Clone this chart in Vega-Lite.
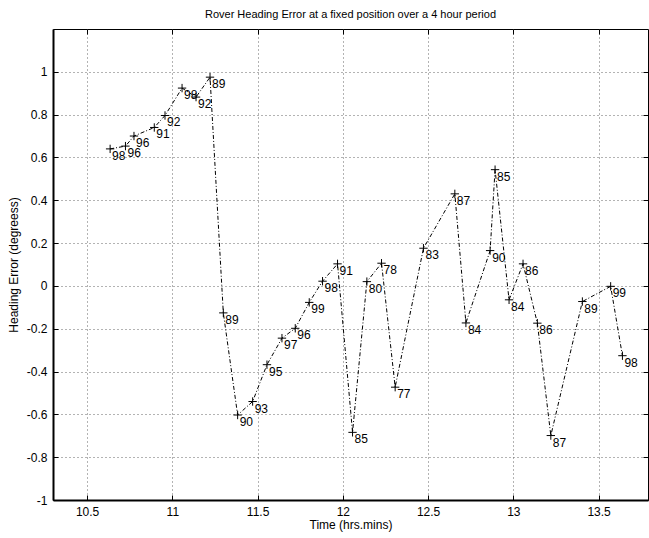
{
  "$schema": "https://vega.github.io/schema/vega-lite/v6.json",
  "width": 595,
  "height": 471,
  "autosize": {"type": "none"},
  "padding": {"left": 53, "top": 29, "right": 1, "bottom": 38},
  "background": "white",
  "title": {
    "text": "Rover Heading Error at a fixed position over a 4 hour period",
    "font": "Liberation Sans",
    "fontSize": 11,
    "fontWeight": "normal",
    "color": "#000",
    "offset": 9,
    "anchor": "middle"
  },
  "config": {
    "view": {"stroke": "#000", "strokeWidth": 1},
    "axis": {
      "labelFont": "Liberation Sans",
      "labelFontSize": 12,
      "labelColor": "#000",
      "titleFont": "Liberation Sans",
      "titleFontSize": 12,
      "titleFontWeight": "normal",
      "titleColor": "#000",
      "domainColor": "#000",
      "tickColor": "#000",
      "gridColor": "#666",
      "gridDash": [1, 3],
      "gridWidth": 1
    }
  },
  "data": {
    "values": [
      {"time": 10.635, "err": 0.640, "q": 98},
      {"time": 10.725, "err": 0.653, "q": 96},
      {"time": 10.775, "err": 0.700, "q": 96},
      {"time": 10.894, "err": 0.740, "q": 91},
      {"time": 10.957, "err": 0.796, "q": 92},
      {"time": 11.057, "err": 0.924, "q": 98},
      {"time": 11.139, "err": 0.882, "q": 92},
      {"time": 11.221, "err": 0.975, "q": 89},
      {"time": 11.299, "err": -0.126, "q": 89},
      {"time": 11.383, "err": -0.603, "q": 90},
      {"time": 11.471, "err": -0.540, "q": 93},
      {"time": 11.555, "err": -0.368, "q": 95},
      {"time": 11.643, "err": -0.244, "q": 97},
      {"time": 11.721, "err": -0.198, "q": 96},
      {"time": 11.803, "err": -0.077, "q": 99},
      {"time": 11.881, "err": 0.022, "q": 98},
      {"time": 11.969, "err": 0.103, "q": 91},
      {"time": 12.057, "err": -0.684, "q": 85},
      {"time": 12.141, "err": 0.020, "q": 80},
      {"time": 12.227, "err": 0.106, "q": 78},
      {"time": 12.307, "err": -0.473, "q": 77},
      {"time": 12.473, "err": 0.176, "q": 83},
      {"time": 12.657, "err": 0.430, "q": 87},
      {"time": 12.722, "err": -0.173, "q": 84},
      {"time": 12.864, "err": 0.165, "q": 90},
      {"time": 12.893, "err": 0.543, "q": 85},
      {"time": 12.975, "err": -0.065, "q": 84},
      {"time": 13.057, "err": 0.103, "q": 86},
      {"time": 13.141, "err": -0.174, "q": 86},
      {"time": 13.220, "err": -0.699, "q": 87},
      {"time": 13.405, "err": -0.073, "q": 89},
      {"time": 13.571, "err": -0.002, "q": 99},
      {"time": 13.640, "err": -0.326, "q": 98}
    ]
  },
  "resolve": {"axis": {"x": "independent", "y": "independent"}},
  "layer": [
    {
      "mark": {"type": "line", "color": "#000", "strokeWidth": 1, "strokeDash": [4, 2, 1, 2]},
      "encoding": {
        "x": {
          "field": "time", "type": "quantitative",
          "scale": {"domain": [10.3, 13.79], "nice": false, "zero": false},
          "axis": {
            "orient": "bottom",
            "title": "Time (hrs.mins)",
            "values": [10.5, 11, 11.5, 12, 12.5, 13, 13.5],
            "labelExpr": "datum.value + ''",
            "grid": true,
            "domainWidth": 2,
            "tickSize": -5,
            "labelPadding": 11,
            "titlePadding": 2
          }
        },
        "y": {
          "field": "err", "type": "quantitative",
          "scale": {"domain": [-1, 1.2], "nice": false, "zero": false},
          "axis": {
            "orient": "left",
            "title": "Heading Error (degreess)",
            "values": [-1, -0.8, -0.6, -0.4, -0.2, 0, 0.2, 0.4, 0.6, 0.8, 1],
            "labelExpr": "datum.value + ''",
            "grid": true,
            "domainWidth": 2,
            "tickSize": -5,
            "labelPadding": 11,
            "titlePadding": 6
          }
        },
        "order": {"field": "time"}
      }
    },
    {
      "mark": {"type": "point", "shape": "M-1,0H1M0,-1V1", "size": 70, "filled": false, "stroke": "#000", "strokeWidth": 1, "opacity": 1},
      "encoding": {
        "x": {
          "field": "time", "type": "quantitative",
          "axis": {"orient": "top", "title": null, "labels": false, "grid": false, "tickSize": -5, "domain": false,
                   "values": [10.5, 11, 11.5, 12, 12.5, 13, 13.5]}
        },
        "y": {
          "field": "err", "type": "quantitative",
          "axis": {"orient": "right", "title": null, "labels": false, "grid": false, "tickSize": -5, "domain": false,
                   "values": [-1, -0.8, -0.6, -0.4, -0.2, 0, 0.2, 0.4, 0.6, 0.8, 1]}
        }
      }
    },
    {
      "mark": {"type": "text", "align": "left", "baseline": "top", "dx": 2, "dy": 2, "font": "Liberation Sans", "fontSize": 12, "color": "#000"},
      "encoding": {
        "x": {"field": "time", "type": "quantitative", "axis": null},
        "y": {"field": "err", "type": "quantitative", "axis": null},
        "text": {"field": "q", "type": "quantitative"}
      }
    }
  ]
}
